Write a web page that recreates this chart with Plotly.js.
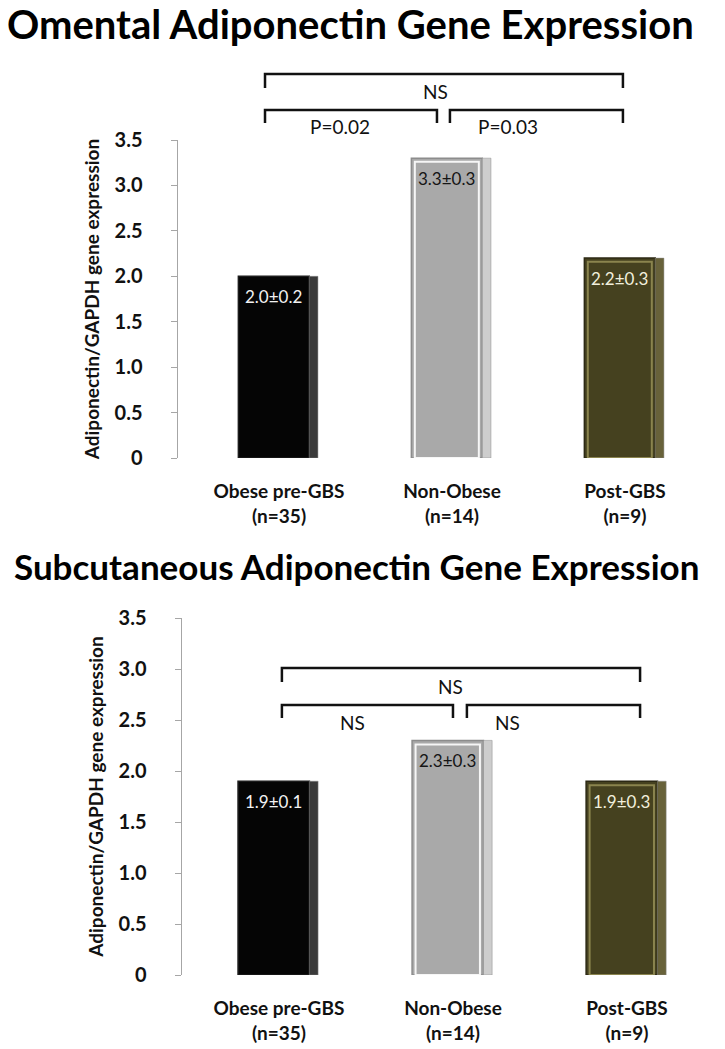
<!DOCTYPE html>
<html>
<head>
<meta charset="utf-8">
<script src="https://cdn.plot.ly/plotly-3.0.1.min.js"></script>
<style>
  html, body { margin: 0; padding: 0; background: #fff; }
  #chart { width: 725px; height: 1049px; }
</style>
</head>
<body>
<div id="chart"></div>
<script>
// Data
const categories = ['Obese pre-GBS', 'Non-Obese', 'Post-GBS'];
const groupSizes = [35, 14, 9];
const omentalMeans = [2.0, 3.3, 2.2];
const omentalSems = [0.2, 0.3, 0.3];
const subcutMeans = [1.9, 2.3, 1.9];
const subcutSems = [0.1, 0.3, 0.3];
// comparisons: [pre vs non-obese, non-obese vs post, pre vs post]
const omentalStats = ['P=0.02', 'P=0.03', 'NS'];
const subcutStats = ['NS', 'NS', 'NS'];
const yTickVals = [0, 0.5, 1, 1.5, 2, 2.5, 3, 3.5];
const yTickText = ['0', '0.5', '1.0', '1.5', '2.0', '2.5', '3.0', '3.5'];

// Styling
const W = 725, H = 1049;
const FONT = 'Lato, "Open Sans", sans-serif';
const faceColors = ['#050505', '#a9a9a9', '#45411f'];
const edgeColors = ['#1c1c1c', '#8c8c8c', '#2c2914'];
const frameColors = ['rgba(0,0,0,0)', '#f6f6f6', '#8a844e'];
const sideColors = ['#3a3a3a', '#cdcdcd', '#68623a'];
const labelColors = ['#f2f2f2', '#151515', '#f1efdc'];

const py = p => 1 - p / H;
const px = p => p / W;

function barTraces(means, xa, ya) {
    const x = categories.map((c, i) => i);
    const base = { type: 'bar', x: x, xaxis: xa, yaxis: ya, hoverinfo: 'skip', showlegend: false };
    const front = Object.assign({}, base, {
        y: means, width: 0.41, offset: -0.235,
        marker: { color: faceColors, line: { color: edgeColors, width: 1.5 } }
    });
    // inner bevel frame, inset a little from the face
    const frame = Object.assign({}, base, {
        y: means.map(m => m - 0.04), width: 0.37, offset: -0.215,
        marker: { color: 'rgba(0,0,0,0)', line: { color: frameColors, width: 2 } }
    });
    const side = Object.assign({}, base, {
        y: means, width: 0.05, offset: 0.175,
        marker: { color: sideColors, line: { color: '#8a8a8a', width: 0.5 } }
    });
    return [front, frame, side];
}

function valueLabels(means, sems, xa, ya) {
    return means.map((m, i) => ({
        x: i - 0.03, y: m, xref: xa, yref: ya,
        xanchor: 'center', yanchor: 'top', yshift: -8, showarrow: false,
        text: m.toFixed(1) + '±' + sems[i].toFixed(1),
        font: { family: FONT, size: 17, color: labelColors[i] }
    }));
}

// bracket geometry in pixels (y) and category units (x)
function brackets(xa, g, stats) {
    const path = (x0, x1, yTop, yEnd) =>
        `M ${x0},${py(yEnd)} L ${x0},${py(yTop)} L ${x1},${py(yTop)} L ${x1},${py(yEnd)}`;
    const line = { color: '#111', width: 2.5 };
    const shapes = [
        { type: 'path', xref: xa, yref: 'paper', line: line, path: path(g.left, g.right, g.outerY, g.outerY + 14) },
        { type: 'path', xref: xa, yref: 'paper', line: line, path: path(g.left, g.midL, g.innerY, g.innerY + 13) },
        { type: 'path', xref: xa, yref: 'paper', line: line, path: path(g.midR, g.right, g.innerY, g.innerY + 13) }
    ];
    const font = { family: FONT, size: 19, color: '#111' };
    const notes = [
        { x: g.lblL, y: py(g.innerY + 17), text: stats[0] },
        { x: g.lblR, y: py(g.innerY + 17), text: stats[1] },
        { x: g.lblO, y: py(g.outerY + 18), text: stats[2] }
    ].map(a => Object.assign(a, { xref: xa, yref: 'paper', xanchor: 'center', yanchor: 'middle',
                                  showarrow: false, font: font }));
    return { shapes, notes };
}

const topBr = brackets('x', { left: -0.081, midL: 0.913, midR: 0.988, right: 1.988,
    outerY: 74, innerY: 110, lblL: 0.353, lblR: 1.324, lblO: 0.902 }, omentalStats);
const botBr = brackets('x2', { left: 0.017, midL: 1.0, midR: 1.08, right: 2.075,
    outerY: 668, innerY: 705, lblL: 0.425, lblR: 1.316, lblO: 0.983 }, subcutStats);

const tickText = categories.map((c, i) => c + '<br>(n=' + groupSizes[i] + ')');

function xAxis(domain, range, anchor) {
    return {
        domain: domain, range: range, anchor: anchor,
        tickvals: [0, 1, 2], ticktext: tickText,
        showline: false, zeroline: false, showgrid: false, ticks: '',
        ticklabelstandoff: 20,
        tickfont: { family: FONT, size: 19, color: '#111', weight: 'bold' }
    };
}

function yAxis(domain, anchor) {
    return {
        domain: domain, range: [0, 3.5], anchor: anchor,
        tickvals: yTickVals, ticktext: yTickText,
        showline: true, linecolor: '#a6a6a6', linewidth: 1.5,
        ticks: 'outside', ticklen: 6, tickcolor: '#a6a6a6',
        showgrid: false, zeroline: false,
        ticklabelstandoff: 24,
        tickfont: { family: FONT, size: 20, color: '#111', weight: 'bold' },
        title: { text: 'Adiponectin/GAPDH gene expression', standoff: 10,
                 font: { family: FONT, size: 19, color: '#111', weight: 'bold' } }
    };
}

const data = [
    ...barTraces(omentalMeans, 'x', 'y'),
    ...barTraces(subcutMeans, 'x2', 'y2')
];

const layout = {
    width: W, height: H,
    margin: { l: 0, r: 0, t: 0, b: 0 },
    paper_bgcolor: '#fff', plot_bgcolor: 'rgba(0,0,0,0)',
    barmode: 'overlay',
    showlegend: false,
    xaxis: xAxis([px(178), 1], [-0.584, 2.578], 'y'),
    yaxis: yAxis([py(458), py(140)], 'x'),
    xaxis2: xAxis([px(182), 1], [-0.557, 2.563], 'y2'),
    yaxis2: yAxis([py(975), py(618)], 'x2'),
    shapes: [...topBr.shapes, ...botBr.shapes],
    annotations: [
        { xref: 'paper', yref: 'paper', x: px(5), y: py(24), xanchor: 'left', yanchor: 'middle',
          showarrow: false, text: 'Omental Adiponectin Gene Expression',
          font: { family: FONT, size: 40, color: '#000', weight: 'bold' } },
        { xref: 'paper', yref: 'paper', x: px(12), y: py(566), xanchor: 'left', yanchor: 'middle',
          showarrow: false, text: 'Subcutaneous Adiponectin Gene Expression',
          font: { family: FONT, size: 35, color: '#000', weight: 'bold' } },
        ...valueLabels(omentalMeans, omentalSems, 'x', 'y'),
        ...valueLabels(subcutMeans, subcutSems, 'x2', 'y2'),
        ...topBr.notes, ...botBr.notes
    ]
};

Plotly.newPlot('chart', data, layout, { displayModeBar: false, staticPlot: true });
</script>
</body>
</html>
